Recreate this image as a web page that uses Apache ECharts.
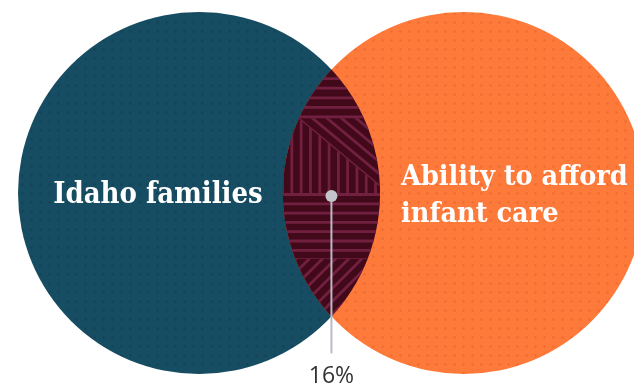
<!DOCTYPE html>
<html><head><meta charset="utf-8">
<script src="https://cdn.jsdelivr.net/npm/echarts@6/dist/echarts.min.js"></script>
<style>html,body{margin:0;padding:0;background:#fff}#c{width:634px;height:388px}</style>
</head><body><div id="c"></div>
<script>
// ---- data ----
const setNames = ['Idaho families', 'Ability to afford\ninfant care'];
const setSizes = [100, 100];          // relative areas of the two sets
const overlapValues = [16];           // overlap, % of a set's area
const overlapLabels = ['16%'];

// ---- style ----
const setFill = ['#174d62', '#fe7a3b'];
const setDot = ['#124359', '#ee6c33'];
const lensBg = '#42091a';
const lensStripe = '#722040';
const serifFont = "'DejaVu Serif Condensed', 'DejaVu Serif', serif";

function makeTile(bg, dot) {
  const cv = document.createElement('canvas');
  cv.width = 9; cv.height = 9;
  const g = cv.getContext('2d');
  g.fillStyle = bg; g.fillRect(0, 0, 9, 9);
  g.fillStyle = dot; g.beginPath(); g.arc(4.5, 4.5, 1.2, 0, Math.PI * 2); g.fill();
  return cv;
}
const patterns = setFill.map((c, i) => ({ image: makeTile(c, setDot[i]), repeat: 'repeat' }));

// ---- geometry from data ----
const R1 = Math.sqrt(setSizes[0] / Math.PI);
const R2 = Math.sqrt(setSizes[1] / Math.PI);
function lensArea(d, r1, r2) {
  const a1 = Math.acos(Math.max(-1, Math.min(1, (d * d + r1 * r1 - r2 * r2) / (2 * d * r1))));
  const a2 = Math.acos(Math.max(-1, Math.min(1, (d * d + r2 * r2 - r1 * r1) / (2 * d * r2))));
  const k = (-d + r1 + r2) * (d + r1 - r2) * (d - r1 + r2) * (d + r1 + r2);
  return r1 * r1 * a1 + r2 * r2 * a2 - 0.5 * Math.sqrt(Math.max(0, k));
}
const targetArea = overlapValues[0] / 100 * setSizes[0];
let lo = Math.abs(R1 - R2) + 1e-9, hi = R1 + R2;
for (let i = 0; i < 80; i++) {
  const m = (lo + hi) / 2;
  if (lensArea(m, R1, R2) > targetArea) lo = m; else hi = m;
}
const D = (lo + hi) / 2;
const circleData = [[0, 0, R1], [D, 0, R2]];

function clipHP(poly, a, b, c) {
  const out = [];
  for (let i = 0; i < poly.length; i++) {
    const P = poly[i], Q = poly[(i + 1) % poly.length];
    const fp = a * P[0] + b * P[1] - c, fq = a * Q[0] + b * Q[1] - c;
    if (fp <= 0) out.push(P);
    if ((fp < 0 && fq > 0) || (fp > 0 && fq < 0)) {
      const t = fp / (fp - fq);
      out.push([P[0] + t * (Q[0] - P[0]), P[1] + t * (Q[1] - P[1])]);
    }
  }
  return out;
}

function renderCircle(params, api) {
  const i = params.dataIndex;
  const c = api.coord([api.value(0), api.value(1)]);
  const r = api.size([api.value(2), 0])[0];
  return { type: 'circle', shape: { cx: c[0], cy: c[1], r: r }, style: { fill: patterns[i] } };
}

function renderLens(params, api) {
  const c1 = api.coord([0, 0]), c2 = api.coord([D, 0]);
  const r1 = api.size([R1, 0])[0], r2 = api.size([R2, 0])[0];
  const dp = c2[0] - c1[0];
  const a = (dp * dp + r1 * r1 - r2 * r2) / (2 * dp);
  const h = Math.sqrt(r1 * r1 - a * a);
  const t1 = Math.atan2(h, a), t2 = Math.atan2(h, dp - a);
  const N = 90, lens = [];
  for (let k = 0; k <= N; k++) { const ang = -t1 + 2 * t1 * k / N; lens.push([c1[0] + r1 * Math.cos(ang), c1[1] + r1 * Math.sin(ang)]); }
  for (let k = 1; k < N; k++) { const ang = Math.PI - t2 + 2 * t2 * k / N; lens.push([c2[0] + r2 * Math.cos(ang), c2[1] + r2 * Math.sin(ang)]); }
  const top = c1[1] - h, bot = c1[1] + h, left = c2[0] - r2, right = c1[0] + r1;
  const H = bot - top, W = right - left;
  const yA = top + 0.197 * H, yD = top + 0.5 * H, yE = top + 0.767 * H;
  const P1 = [left + 0.156 * W, yA], P2 = [right, top + 0.474 * H];
  const Dv = [P2[0] - P1[0], P2[1] - P1[1]];
  const dl = Math.hypot(Dv[0], Dv[1]);
  const dn = [Dv[0] / dl, Dv[1] / dl];
  const cD = Dv[1] * P1[0] - Dv[0] * P1[1];
  const s2 = Math.SQRT1_2;
  const regions = [
    { hp: [[0, 1, yA]], dir: [1, 0], anchor: [0, top + 9], sp: 9.6 },
    { hp: [[0, -1, -yA], [0, 1, yD], [Dv[1], -Dv[0], cD]], dir: [0, 1], anchor: [left + 9, 0], sp: 9.3 },
    { hp: [[0, -1, -yA], [0, 1, yD], [-Dv[1], Dv[0], -cD]], dir: dn, anchor: P1, sp: 9.3 },
    { hp: [[0, -1, -yD], [0, 1, yE]], dir: [1, 0], anchor: [0, yD + 1.5], sp: 9.3 },
    { hp: [[0, -1, -yE]], dir: [s2, -s2], anchor: [c1[0] + a, yE + 4], sp: 9.3 }
  ];
  const children = [{ type: 'polygon', shape: { points: lens }, style: { fill: lensBg } }];
  const sw = 2.8;
  regions.forEach(rg => {
    let base = lens;
    rg.hp.forEach(p => { base = clipHP(base, p[0], p[1], p[2]); });
    if (base.length < 3) return;
    const n = [-rg.dir[1], rg.dir[0]];
    const o0 = n[0] * rg.anchor[0] + n[1] * rg.anchor[1];
    let mn = Infinity, mx = -Infinity;
    base.forEach(p => { const v = n[0] * p[0] + n[1] * p[1]; mn = Math.min(mn, v); mx = Math.max(mx, v); });
    const k0 = Math.floor((mn - o0) / rg.sp) - 1, k1 = Math.ceil((mx - o0) / rg.sp) + 1;
    for (let k = k0; k <= k1; k++) {
      const o = o0 + k * rg.sp;
      let s = clipHP(base, n[0], n[1], o + sw / 2);
      s = clipHP(s, -n[0], -n[1], -(o - sw / 2));
      if (s.length >= 3) children.push({ type: 'polygon', shape: { points: s }, style: { fill: lensStripe } });
    }
  });
  // callout
  const cx = c1[0] + a, cy = c1[1] + 3;
  children.push({ type: 'line', shape: { x1: cx, y1: cy, x2: cx, y2: bot + 37 }, style: { stroke: '#b9bac2', lineWidth: 2 } });
  children.push({ type: 'circle', shape: { cx: cx, cy: cy, r: 6 }, style: { fill: '#c3c4cb' } });
  children.push({ type: 'text', style: { text: overlapLabels[0], x: cx, y: bot + 60, align: 'center', verticalAlign: 'middle', fill: '#333333', fontSize: 23, fontFamily: "'Open Sans', 'Noto Sans', sans-serif" } });
  // set labels
  children.push({ type: 'text', style: { text: setNames[0], x: c1[0] - 41, y: c1[1] + 2, align: 'center', verticalAlign: 'middle', fill: '#ffffff', fontSize: 29, fontWeight: 'bold', fontFamily: serifFont } });
  children.push({ type: 'text', style: { text: setNames[1], x: right + 21, y: c1[1] + 3, align: 'left', verticalAlign: 'middle', fill: '#ffffff', fontSize: 28.5, lineHeight: 37, fontWeight: 'bold', fontFamily: serifFont } });
  return { type: 'group', children: children };
}

const chart = echarts.init(document.getElementById('c'), null, { renderer: 'canvas' });
chart.setOption({
  animation: false,
  grid: { left: 18, top: 12, width: 362, height: 362 },
  xAxis: { type: 'value', min: -R1, max: R1, show: false },
  yAxis: { type: 'value', min: -R1, max: R1, show: false },
  series: [
    { type: 'custom', silent: true, clip: false, renderItem: renderCircle, data: circleData, z: 1 },
    { type: 'custom', silent: true, clip: false, renderItem: renderLens, data: [[0, 0]], z: 2 }
  ]
});
</script></body></html>
